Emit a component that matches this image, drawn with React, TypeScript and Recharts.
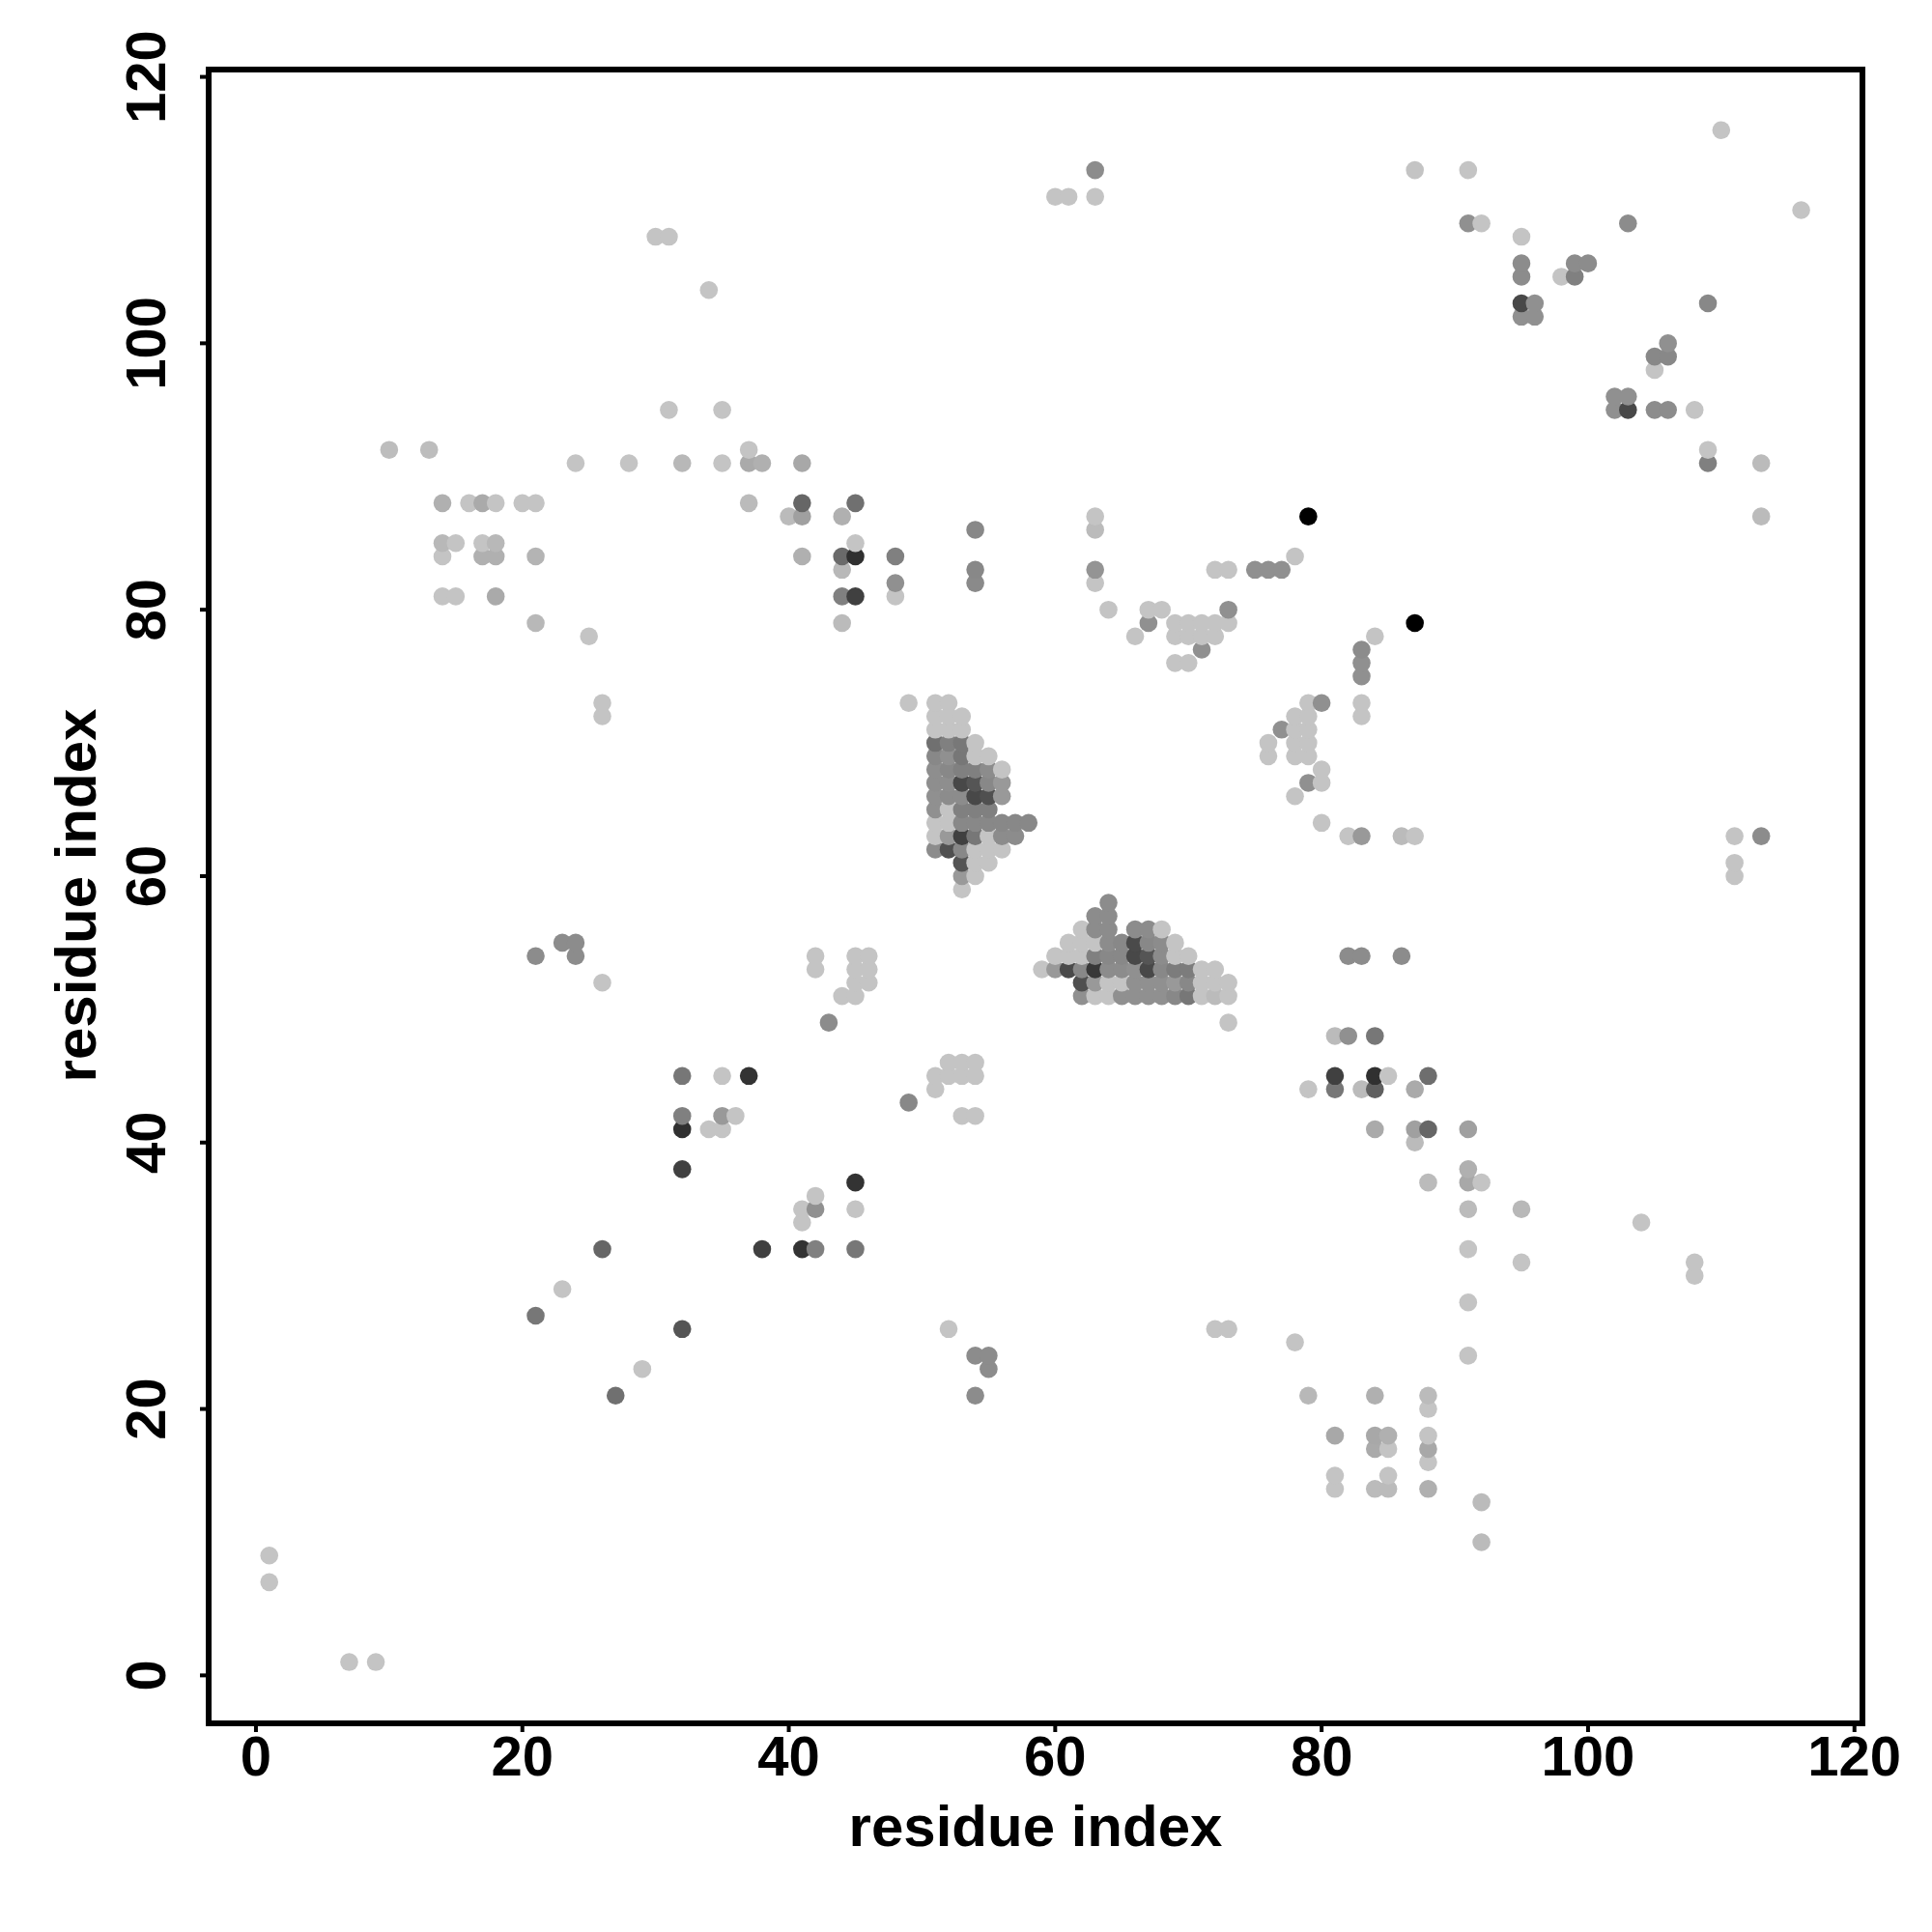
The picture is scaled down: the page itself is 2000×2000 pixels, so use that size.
import React from 'react';
import { ScatterChart, Scatter, XAxis, YAxis, ReferenceArea } from 'recharts';

type Pt = [number, number, string];

const L = '#c4c4c4';
const M = '#8c8c8c';
const D = '#484848';

const ticks = [0, 20, 40, 60, 80, 100, 120];
const xDomain = [-3.55, 120.6];
const yDomain = [-3.6, 120.55];

// upper half, outside the two dense triangles
const upperPoints: Pt[] = [
  [110, 116, L], [63, 113, M], [87, 113, L], [91, 113, L], [60, 111, L], [61, 111, L], [63, 111, L],
  [116, 110, L], [91, 109, '#909090'], [92, 109, L], [103, 109, M], [30, 108, L], [31, 108, L], [95, 108, L],
  [95, 106, M], [99, 106, M], [100, 106, M], [95, 105, M], [98, 105, L], [99, 105, '#808080'], [34, 104, L],
  [95, 103, D], [96, 103, '#909090'], [109, 103, '#888888'], [95, 102, '#909090'], [96, 102, '#909090'], [106, 100, '#909090'], [105, 99, '#888888'], [106, 99, '#888888'],
  [105, 98, L], [102, 96, '#909090'], [103, 96, '#909090'], [31, 95, L], [35, 95, L], [102, 95, '#909090'], [103, 95, D], [105, 95, M], [106, 95, M], [108, 95, L],
  [10, 92, '#bdbdbd'], [13, 92, '#bdbdbd'], [37, 92, L], [109, 92, L], [24, 91, L], [28, 91, L], [32, 91, '#b8b8b8'], [35, 91, L], [37, 91, '#aaaaaa'], [38, 91, '#b0b0b0'],
  [41, 91, '#a8a8a8'], [109, 91, '#808080'], [113, 91, '#bbbbbb'],
  [14, 88, '#b0b0b0'], [16, 88, L], [17, 88, '#aaaaaa'], [18, 88, L], [20, 88, L], [21, 88, L], [37, 88, '#bbbbbb'], [41, 88, '#666666'], [45, 88, '#707070'],
  [40, 87, '#bbbbbb'], [41, 87, '#a0a0a0'], [44, 87, '#b0b0b0'], [63, 87, L], [79, 87, '#000000'], [113, 87, '#bbbbbb'], [54, 86, '#888888'], [63, 86, '#bbbbbb'],
  [14, 85, '#b8b8b8'], [15, 85, L], [17, 85, L], [18, 85, '#b8b8b8'], [45, 85, L],
  [14, 84, L], [17, 84, '#b0b0b0'], [18, 84, '#b0b0b0'], [21, 84, '#b4b4b4'], [41, 84, '#b0b0b0'], [44, 84, '#6a6a6a'], [45, 84, '#303030'], [48, 84, '#808080'], [78, 84, L],
  [44, 83, '#b8b8b8'], [54, 83, '#888888'], [63, 83, '#949494'], [72, 83, L], [73, 83, L], [75, 83, '#909090'], [76, 83, '#909090'], [77, 83, '#909090'],
  [48, 82, '#909090'], [54, 82, '#8a8a8a'], [63, 82, L], [14, 81, L], [15, 81, L], [18, 81, '#aaaaaa'], [44, 81, '#808080'], [45, 81, '#404040'], [48, 81, L],
  [64, 80, L], [67, 80, L], [68, 80, L], [73, 80, '#909090'], [21, 79, '#b8b8b8'], [44, 79, '#bbbbbb'], [67, 79, '#909090'], [69, 79, L], [70, 79, L], [71, 79, L], [72, 79, L], [73, 79, L],
  [87, 79, '#000000'], [25, 78, L], [66, 78, L], [69, 78, L], [70, 78, L], [71, 78, L], [72, 78, L], [84, 78, L],
  [71, 77, '#909090'], [83, 77, M], [69, 76, L], [70, 76, L], [83, 76, '#909090'], [83, 75, '#909090'],
  [26, 73, L], [79, 73, L], [80, 73, '#909090'], [83, 73, L], [26, 72, L], [78, 72, L], [79, 72, L], [83, 72, L],
  [77, 71, '#909090'], [78, 71, L], [79, 71, L], [76, 70, L], [78, 70, L], [79, 70, L], [76, 69, L], [78, 69, L], [79, 69, L],
  [80, 68, L], [79, 67, '#909090'], [80, 67, L], [78, 66, L], [80, 64, L],
  [82, 63, L], [83, 63, '#999999'], [86, 63, '#bbbbbb'], [87, 63, L], [111, 63, L], [113, 63, M], [111, 61, L], [111, 60, L],
];

// dense block around x 51-58, y 59-73
const triangleA: Pt[] = [
  [49, 73, L], [51, 73, L], [52, 73, L], [51, 72, L], [52, 72, L], [53, 72, L], [51, 71, L], [52, 71, L], [53, 71, L],
  [51, 70, '#707070'], [52, 70, '#808080'], [53, 70, '#787878'], [54, 70, L],
  [51, 69, '#888888'], [52, 69, '#909090'], [53, 69, '#777777'], [54, 69, L], [55, 69, L],
  [51, 68, '#8e8e8e'], [52, 68, '#888888'], [53, 68, '#808080'], [54, 68, '#808080'], [55, 68, M], [56, 68, L],
  [51, 67, '#8e8e8e'], [52, 67, '#8e8e8e'], [53, 67, '#484848'], [54, 67, '#555555'], [55, 67, '#888888'], [56, 67, '#999999'],
  [51, 66, '#909090'], [52, 66, M], [53, 66, M], [54, 66, '#484848'], [55, 66, '#505050'], [56, 66, '#999999'],
  [51, 65, '#909090'], [52, 65, L], [53, 65, '#808080'], [54, 65, '#808080'], [55, 65, '#808080'],
  [51, 64, L], [52, 64, L], [53, 64, '#888888'], [54, 64, '#888888'], [55, 64, '#888888'], [56, 64, '#888888'], [57, 64, '#888888'], [58, 64, '#888888'],
  [51, 63, L], [52, 63, '#999999'], [53, 63, '#404040'], [54, 63, '#777777'], [55, 63, L], [56, 63, M], [57, 63, M],
  [51, 62, M], [52, 62, '#505050'], [53, 62, '#888888'], [54, 62, L], [55, 62, L], [56, 62, L],
  [53, 61, '#555555'], [54, 61, L], [55, 61, L], [53, 60, '#999999'], [54, 60, L], [53, 59, L],
];

// dense block around x 59-73, y 51-58
const triangleB: Pt[] = [
  [64, 58, M], [63, 57, M], [64, 57, M], [62, 56, L], [63, 56, M], [64, 56, M], [66, 56, M], [67, 56, M], [68, 56, L],
  [61, 55, L], [62, 55, L], [63, 55, L], [64, 55, M], [65, 55, '#888888'], [66, 55, '#4a4a4a'], [67, 55, '#888888'], [68, 55, M], [69, 55, L],
  [60, 54, L], [61, 54, L], [62, 54, L], [63, 54, '#808080'], [64, 54, '#888888'], [65, 54, '#888888'], [66, 54, '#484848'], [67, 54, '#555555'], [68, 54, M], [69, 54, L], [70, 54, L],
  [59, 53, L], [60, 53, '#999999'], [61, 53, '#4a4a4a'], [62, 53, '#888888'], [63, 53, '#383838'], [64, 53, M], [65, 53, M], [66, 53, '#909090'], [67, 53, '#484848'], [68, 53, '#888888'], [69, 53, '#7c7c7c'], [70, 53, '#7c7c7c'], [71, 53, L], [72, 53, L],
  [62, 52, '#505050'], [63, 52, '#999999'], [64, 52, L], [65, 52, L], [66, 52, '#909090'], [67, 52, '#909090'], [68, 52, '#909090'], [69, 52, '#999999'], [70, 52, '#888888'], [71, 52, L], [72, 52, L], [73, 52, L],
  [62, 51, '#909090'], [63, 51, L], [64, 51, L], [65, 51, '#909090'], [66, 51, '#909090'], [67, 51, '#909090'], [68, 51, '#909090'], [69, 51, '#888888'], [70, 51, '#777777'], [71, 51, L], [72, 51, '#bbbbbb'], [73, 51, L],
];

// lower half, outside the dense triangles
const lowerPoints: Pt[] = [
  [23, 55, M], [24, 55, M], [21, 54, M], [24, 54, M], [42, 54, L], [45, 54, L], [46, 54, L], [82, 54, M], [83, 54, M], [86, 54, M],
  [42, 53, L], [45, 53, L], [46, 53, L], [26, 52, L], [45, 52, L], [46, 52, L], [44, 51, L], [45, 51, L],
  [43, 49, M], [73, 49, L], [81, 48, '#bbbbbb'], [82, 48, '#909090'], [84, 48, '#777777'], [52, 46, L], [53, 46, L], [54, 46, L],
  [32, 45, '#777777'], [35, 45, L], [37, 45, '#333333'], [51, 45, L], [52, 45, L], [53, 45, L], [54, 45, L], [81, 45, '#404040'], [84, 45, '#303030'], [85, 45, L], [88, 45, '#6e6e6e'],
  [51, 44, L], [79, 44, L], [81, 44, '#777777'], [83, 44, '#bbbbbb'], [84, 44, '#606060'], [87, 44, '#aaaaaa'], [49, 43, '#888888'],
  [32, 42, '#808080'], [35, 42, '#999999'], [36, 42, L], [53, 42, L], [54, 42, L], [32, 41, '#303030'], [34, 41, L], [35, 41, L], [84, 41, '#aaaaaa'], [87, 41, '#a0a0a0'], [88, 41, '#666666'], [91, 41, '#a0a0a0'],
  [87, 40, '#bbbbbb'], [32, 38, '#404040'], [91, 38, '#b0b0b0'], [45, 37, '#333333'], [88, 37, '#bbbbbb'], [91, 37, '#a8a8a8'], [92, 37, L], [42, 36, L],
  [41, 35, L], [42, 35, '#909090'], [45, 35, L], [91, 35, '#bbbbbb'], [95, 35, '#b8b8b8'], [41, 34, L], [104, 34, L],
  [26, 32, '#666666'], [38, 32, '#404040'], [41, 32, '#333333'], [42, 32, '#808080'], [45, 32, '#777777'], [91, 32, L], [95, 31, L], [108, 31, L], [108, 30, L],
  [23, 29, L], [91, 28, L], [21, 27, '#777777'], [32, 26, '#555555'], [52, 26, L], [72, 26, L], [73, 26, L], [78, 25, L],
  [54, 24, M], [55, 24, M], [91, 24, L], [29, 23, L], [55, 23, M], [27, 21, '#707070'], [54, 21, M], [79, 21, '#b8b8b8'], [84, 21, '#b0b0b0'], [88, 21, '#bbbbbb'], [88, 20, L],
  [81, 18, '#a8a8a8'], [84, 18, '#a8a8a8'], [85, 18, '#b0b0b0'], [88, 18, L], [84, 17, '#aaaaaa'], [85, 17, L], [88, 17, '#a8a8a8'], [88, 16, L],
  [81, 15, L], [85, 15, L], [81, 14, L], [84, 14, '#bbbbbb'], [85, 14, '#bbbbbb'], [88, 14, '#b0b0b0'], [92, 13, '#bbbbbb'], [92, 10, '#bbbbbb'],
  [1, 9, L], [1, 7, L], [7, 1, L], [9, 1, L],
];

// the reference paints row by row, so later rows sit on top
const points = [...upperPoints, ...triangleA, ...triangleB, ...lowerPoints]
  .map(([x, y, color]) => ({ x, y, color }))
  .sort((a, b) => a.y - b.y || a.x - b.x);

const font = '"Liberation Sans", Arial, sans-serif';

const Dot = (props: any) => <circle cx={props.cx} cy={props.cy} r={9.3} fill={props.payload.color} />;

const XTick = (props: any) => (
  <text x={props.x} y={props.y + 43} textAnchor="middle" fontFamily={font} fontWeight={700} fontSize={58} fill="#000">
    {props.payload.value}
  </text>
);

const YTick = (props: any) => {
  const bx = props.x - 34;
  return (
    <text x={bx} y={props.y} transform={`rotate(-90 ${bx} ${props.y})`} textAnchor="middle" fontFamily={font} fontWeight={700} fontSize={58} fill="#000">
      {props.payload.value}
    </text>
  );
};

const XLabel = () => (
  <text x={1072} y={1911} textAnchor="middle" fontFamily={font} fontWeight={700} fontSize={60} fill="#000">
    residue index
  </text>
);

const YLabel = () => (
  <text x={99} y={927} transform="rotate(-90 99 927)" textAnchor="middle" fontFamily={font} fontWeight={700} fontSize={60} fill="#000">
    residue index
  </text>
);

export default function App() {
  return (
    <div style={{ position: 'absolute', left: 0, top: 0, width: 2000, height: 2000, background: '#fff' }}>
      <ScatterChart width={2000} height={2000} margin={{ top: 72, right: 72, bottom: 0, left: 0 }}>
        <XAxis
          type="number"
          dataKey="x"
          domain={xDomain}
          ticks={ticks}
          allowDataOverflow
          height={216}
          tick={<XTick />}
          tickLine={{ stroke: '#000', strokeWidth: 4 }}
          tickSize={9}
          axisLine={false}
          label={{ content: () => <XLabel /> }}
        />
        <YAxis
          type="number"
          dataKey="y"
          domain={yDomain}
          ticks={ticks}
          allowDataOverflow
          width={216}
          tick={<YTick />}
          tickLine={{ stroke: '#000', strokeWidth: 4 }}
          tickSize={9}
          axisLine={false}
          label={{ content: () => <YLabel /> }}
        />
        <Scatter data={points} isAnimationActive={false} shape={<Dot />} />
        <ReferenceArea x1={xDomain[0]} x2={xDomain[1]} y1={yDomain[0]} y2={yDomain[1]} fill="none" stroke="#000" strokeWidth={6} ifOverflow="visible" />
      </ScatterChart>
    </div>
  );
}
